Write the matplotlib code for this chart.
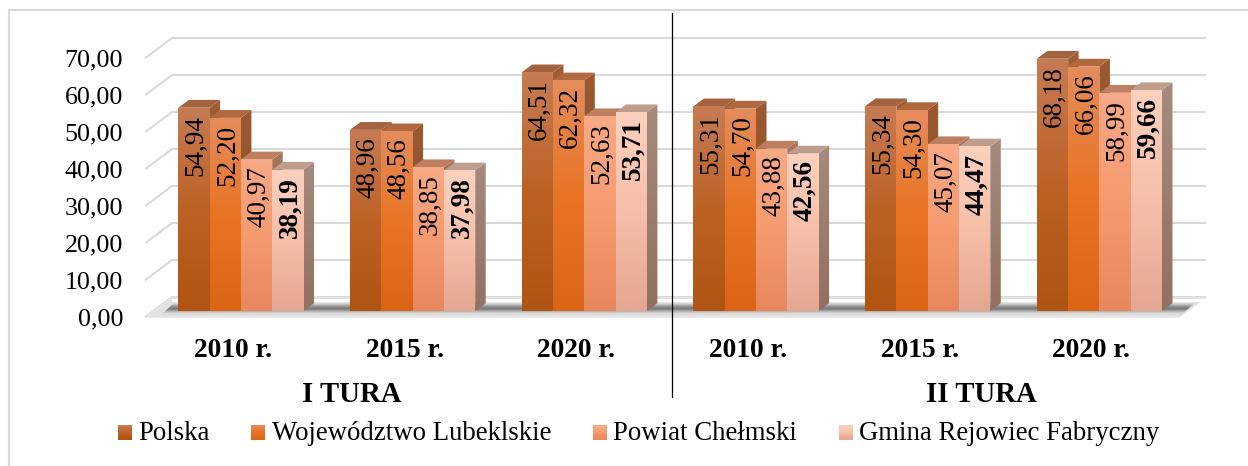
import numpy as np
import matplotlib
matplotlib.use("Agg")
import matplotlib.pyplot as plt
from matplotlib.colors import LinearSegmentedColormap
from matplotlib.legend_handler import HandlerBase
from matplotlib.lines import Line2D
from matplotlib.patches import Polygon, Rectangle
from matplotlib.transforms import ScaledTranslation

plt.rcParams['font.family'] = ['Liberation Serif', 'DejaVu Serif']

# data
categories = ['2010 r.', '2015 r.', '2020 r.', '2010 r.', '2015 r.', '2020 r.']
series_names = ['Polska', 'Województwo Lubeklskie', 'Powiat Chełmski', 'Gmina Rejowiec Fabryczny']
polska = [54.94, 48.96, 64.51, 55.31, 55.34, 68.18]
lubelskie = [52.20, 48.56, 62.32, 54.70, 54.30, 66.06]
chelmski = [40.97, 38.85, 52.63, 43.88, 45.07, 58.99]
rejowiec = [38.19, 37.98, 53.71, 42.56, 44.47, 59.66]
y_ticks = [0, 10, 20, 30, 40, 50, 60, 70]
round_names = ['I TURA', 'II TURA']

# colours per series: front gradient, top face, side gradient
front_colors = [
    ['#C77B54', '#BC6226', '#AF5412'],
    ['#E58C5C', '#E87424', '#DB6517'],
    ['#F8A986', '#F59B70', '#E8875E'],
    ['#FBD1BE', '#F6BFA9', '#E4A792'],
]
top_colors = ['#A4633F', '#B0683F', '#BD7F60', '#BE9D8D']
side_colors = [
    ['#A05E38', '#8E5029'],
    ['#9A5931', '#8A4C26'],
    ['#A8755A', '#96634A'],
    ['#A58A7D', '#93705F'],
]

W, H = 1248, 466
PX_X = 1 / 171.7  # category units per pixel
PX_Y = 1 / 3.7    # value units per pixel
bar_w = 31.3 * PX_X
depth_x = 10.5 * PX_X
depth_y = 7.8 * PX_Y
grid_x = 26 * PX_X
grid_y = 19.5 * PX_Y

fig = plt.figure(figsize=(W / 100, H / 100), dpi=100)
left_px, bottom_px = 130, 322
ax = fig.add_axes([left_px / W, 1 - bottom_px / H, 1 - left_px / W, bottom_px / H])
ax.set_autoscale_on(False)
ax.set_xlim((left_px - 240.9) * PX_X, (W - 240.9) * PX_X)
ax.set_ylim((311 - bottom_px) * PX_Y, 311 * PX_Y)
ax.patch.set_visible(False)
for spine in ax.spines.values():
    spine.set_visible(False)


def gradient_poly(verts, stops, z):
    verts = np.array(verts)
    cmap = LinearSegmentedColormap.from_list('g', stops)
    im = ax.imshow(np.linspace(0, 1, 128)[:, None], cmap=cmap, aspect='auto', origin='upper', zorder=z,
                   extent=(verts[:, 0].min(), verts[:, 0].max(), verts[:, 1].min(), verts[:, 1].max()))
    clip = Polygon(verts, closed=True, transform=ax.transData, fill=False, edgecolor='none')
    ax.add_patch(clip)
    im.set_clip_path(clip)


# back grid lines with the slanted part on the left wall
xmin = -240.9 * PX_X + 146 * PX_X
xback = xmin + grid_x
xend = (1205 - 240.9) * PX_X
for t in y_ticks:
    y_front = t - 5.5 * PX_Y
    y_back = y_front + grid_y
    ax.plot([xmin, xback, xend], [y_front, y_back, y_back], color='#D9D9D9', lw=1.5, zorder=1,
            solid_joinstyle='miter')

# floor and its shadow
y_floor = -6 * PX_Y
floor = Polygon([(xmin, y_floor), (xmin + grid_x, y_floor + grid_y), (xend, y_floor + grid_y),
                 (xend - grid_x, y_floor)], closed=True, color='#E3E3E3', zorder=1.5)
ax.add_patch(floor)
ax.fill_between([xback, xend], y_floor + grid_y - 1.5 * PX_Y, 9 * PX_Y, color='white', zorder=1.6, lw=0)
gradient_poly([(xmin + 14 * PX_X, y_floor + 1 * PX_Y), (xback + 3 * PX_X, 9 * PX_Y),
               (xend - 9 * PX_X, 9 * PX_Y), (xend - 25 * PX_X, y_floor + 1 * PX_Y)],
              ['#F0F0F0', '#C4C4C4', '#8C8C8C', '#787878', '#B4B4B4', '#DEDEDE', '#E3E3E3'], 1.7)

# bars, drawn left to right so each one covers the side of the previous one
all_series = [polska, lubelskie, chelmski, rejowiec]
z = 2
for i in range(len(categories)):
    for j, values in enumerate(all_series):
        v = values[i]
        x0 = i + (j - 2) * bar_w
        x1 = x0 + bar_w
        gradient_poly([(x1, 0), (x1 + depth_x, depth_y), (x1 + depth_x, v + depth_y), (x1, v)],
                      side_colors[j], z)
        ax.add_patch(Polygon([(x0, v), (x0 + depth_x, v + depth_y), (x1 + depth_x, v + depth_y), (x1, v)],
                             closed=True, facecolor=top_colors[j], edgecolor='none', zorder=z + 0.1))
        gradient_poly([(x0, 0), (x0, v), (x1, v), (x1, 0)], front_colors[j], z + 0.2)
        ax.annotate(f'{v:.2f}'.replace('.', ','), xy=(x0 + bar_w / 2, v), xytext=(1.5, -5),
                    textcoords='offset points', rotation=90, ha='center', va='top', fontsize=19.5,
                    fontweight='bold' if j == 3 else 'normal', color='black', zorder=50)
        z += 0.3

# axes ticks
ax.set_yticks(y_ticks)
ax.set_yticklabels([f'{t:.2f}'.replace('.', ',') for t in y_ticks], fontsize=18.7)
ax.set_xticks(range(len(categories)))
ax.set_xticklabels(categories, fontsize=19.7, fontweight='bold')
ax.tick_params(axis='both', length=0)
ax.tick_params(axis='y', pad=5)
ax.tick_params(axis='x', pad=11.5)
y_shift = ScaledTranslation(0, -0.055, fig.dpi_scale_trans)
x_shift = ScaledTranslation(-0.08, 0, fig.dpi_scale_trans)
for label in ax.get_yticklabels():
    label.set_transform(label.get_transform() + y_shift)
for label in ax.get_xticklabels():
    label.set_transform(label.get_transform() + x_shift)

# round titles
fig.text(352 / W, 1 - 394 / H, round_names[0], fontsize=20.7, fontweight='bold', ha='center', va='center')
fig.text(981 / W, 1 - 394 / H, round_names[1], fontsize=20.7, fontweight='bold', ha='center', va='center')


# legend with gradient squares
class GradientHandler(HandlerBase):
    def __init__(self, stops):
        super().__init__()
        self.stops = stops

    def create_artists(self, legend, orig_handle, xdescent, ydescent, width, height, fontsize, trans):
        cmap = LinearSegmentedColormap.from_list('g', self.stops)
        n = 14
        size = width * 1.05
        y0 = -ydescent - 1.5
        return [Rectangle((-xdescent, y0 + size * (n - 1 - k) / n), width, size / n + 0.3,
                          facecolor=cmap(k / (n - 1)), edgecolor='none', transform=trans)
                for k in range(n)]


handles = [Rectangle((0, 0), 1, 1) for name in series_names]
handler_map = {h: GradientHandler(front_colors[k]) for k, h in enumerate(handles)}
fig.legend(handles, series_names, handler_map=handler_map, ncol=4, frameon=False, fontsize=19.3,
           loc='center', bbox_to_anchor=(638.5 / W, 1 - 433 / H), handlelength=0.53, handleheight=0.53,
           handletextpad=0.23, columnspacing=1.56, borderpad=0, borderaxespad=0)

# chart frame and the line between the two rounds
fig.add_artist(Line2D([9 / W, 9 / W, 1], [0, 1 - 10 / H, 1 - 10 / H], color='#D9D9D9', lw=1.5,
                      solid_joinstyle='miter'))
fig.add_artist(Line2D([672 / W, 672 / W], [1 - 13 / H, 1 - 397 / H], color='black', lw=0.9))

fig.savefig('out.png', dpi=100)
